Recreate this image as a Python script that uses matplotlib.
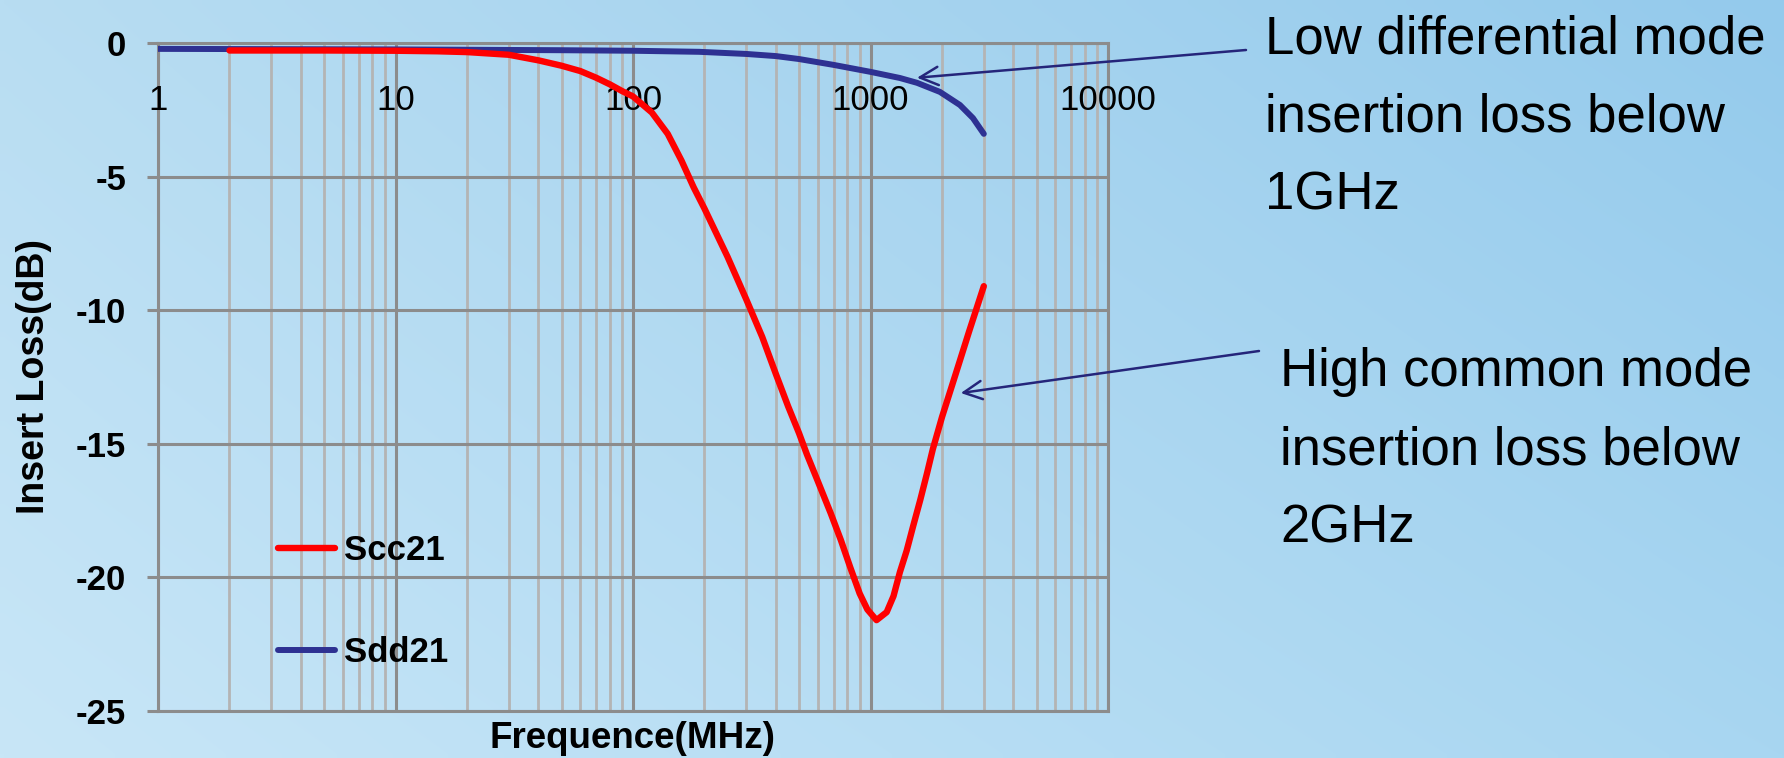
import numpy as np
import matplotlib.pyplot as plt

plt.rcParams['font.family'] = ['Liberation Sans', 'DejaVu Sans']
plt.rcParams['axes.unicode_minus'] = False

# Scc21 (common mode)
scc_freq = [2, 5, 10, 15, 20, 30, 40, 50, 60, 70, 80, 90, 100, 120, 140, 160, 180, 200,
            250, 300, 350, 400, 450, 500, 540, 600, 680, 750, 820, 900, 970, 1060,
            1170, 1250, 1330, 1420, 1510, 1620, 1730, 1830, 2000, 2300, 2600, 3000]
scc_db = [-0.28, -0.28, -0.29, -0.31, -0.34, -0.44, -0.65, -0.85, -1.05, -1.3, -1.55, -1.8,
          -2.0, -2.6, -3.4, -4.4, -5.4, -6.2, -8.0, -9.6, -11.0, -12.4, -13.6, -14.6,
          -15.4, -16.4, -17.6, -18.6, -19.6, -20.6, -21.2, -21.6, -21.3, -20.7, -19.8,
          -19.0, -18.1, -17.1, -16.1, -15.2, -14.0, -12.3, -10.8, -9.1]

# Sdd21 (differential mode)
sdd_freq = [1, 10, 50, 100, 190, 300, 400, 500, 700, 1000, 1330, 1570, 1960, 2380, 2700, 3000]
sdd_db = [-0.22, -0.24, -0.27, -0.29, -0.33, -0.41, -0.49, -0.6, -0.82, -1.08, -1.31,
          -1.49, -1.83, -2.32, -2.81, -3.4]

x_ticks = [1, 10, 100, 1000, 10000]
x_tick_labels = ['1', '10', '100', '1000', '10000']
y_ticks = [-25, -20, -15, -10, -5, 0]
y_tick_labels = ['-25', '-20', '-15', '-10', '-5', '0']

note_dm = 'Low differential mode\ninsertion loss below\n1GHz'
note_cm = 'High common mode\ninsertion loss below\n2GHz'

W, H = 1784, 758
fig = plt.figure(figsize=(W / 100, H / 100), dpi=100)

# light blue gradient background
bg = fig.add_axes([0, 0, 1, 1], zorder=-1)
gx, gy = np.meshgrid(np.linspace(0, 1, 200), np.linspace(1, 0, 100))
tl = np.array([184, 221, 242]) / 255
tr = np.array([148, 202, 236]) / 255
bl = np.array([200, 230, 247]) / 255
br = np.array([168, 214, 241]) / 255
img = (tl * ((1 - gx) * gy)[..., None] + tr * (gx * gy)[..., None]
       + bl * ((1 - gx) * (1 - gy))[..., None] + br * (gx * (1 - gy))[..., None])
bg.imshow(img, extent=[0, 1, 0, 1], aspect='auto', interpolation='bilinear')
bg.axis('off')

ax = fig.add_axes([158 / W, 1 - 711 / H, 950 / W, 668 / H])
ax.set_facecolor('none')

grey = '#8c8c8c'
ax.set_xscale('log')
ax.set_xlim(1, 10000)
ax.set_ylim(-25, 0)
ax.set_xticks(x_ticks)
ax.set_yticks(y_ticks)
ax.set_yticklabels(y_tick_labels, fontsize=25, fontweight='bold')
ax.grid(which='major', axis='both', color=grey, lw=2.2)
ax.grid(which='minor', axis='x', color='#b4b4b4', lw=2.0)
ax.tick_params(axis='x', which='both', length=0, labelbottom=False)
ax.tick_params(axis='y', length=8, width=2.2, color=grey, pad=15)
for s in ax.spines.values():
    s.set_color(grey)
    s.set_linewidth(2.2)

# x labels sit just under the 0 dB line
for t, lab in zip(x_ticks, x_tick_labels):
    ax.text(t, 0.914, lab, transform=ax.get_xaxis_transform(), ha='center', va='center',
            fontsize=25)

ax.plot(sdd_freq, sdd_db, color='#2e3192', lw=4.3, label='Sdd21', zorder=3,
        solid_capstyle='round')
ax.plot(scc_freq, scc_db, color='#ff0000', lw=4.6, label='Scc21', zorder=4,
        solid_capstyle='round')

handles, labels = ax.get_legend_handles_labels()
ax.legend(handles[::-1], labels[::-1], loc='upper left', bbox_to_anchor=(0.1263, 0.265),
          frameon=False, prop={'size': 25, 'weight': 'bold'}, handlelength=1.65,
          handletextpad=0.25, labelspacing=2.0, borderpad=0, borderaxespad=0)

fig.text(632 / W, 1 - 738 / H, 'Frequence(MHz)', ha='center', va='center',
         fontsize=26.5, fontweight='bold')
fig.text(34.5 / W, 1 - 377 / H, 'Insert Loss(dB)', ha='center', va='center',
         rotation=90, fontsize=27, fontweight='bold')

arrow = dict(arrowstyle='->', color='#25257a', lw=1.8, mutation_scale=33,
             shrinkA=0, shrinkB=0)
ax.annotate('', xy=(1570, -1.3), xytext=(1246 / W, 1 - 50 / H),
            textcoords='figure fraction', arrowprops=arrow, annotation_clip=False)
ax.annotate('', xy=(2400, -13.1), xytext=(1259 / W, 1 - 351 / H),
            textcoords='figure fraction', arrowprops=arrow, annotation_clip=False)

fig.text(1265 / W, 1 - 14 / H, note_dm, ha='left', va='top', fontsize=38, linespacing=1.73)
fig.text(1280 / W, 1 - 347 / H, note_cm, ha='left', va='top', fontsize=38, linespacing=1.72)

fig.savefig('out.png', dpi=100)
